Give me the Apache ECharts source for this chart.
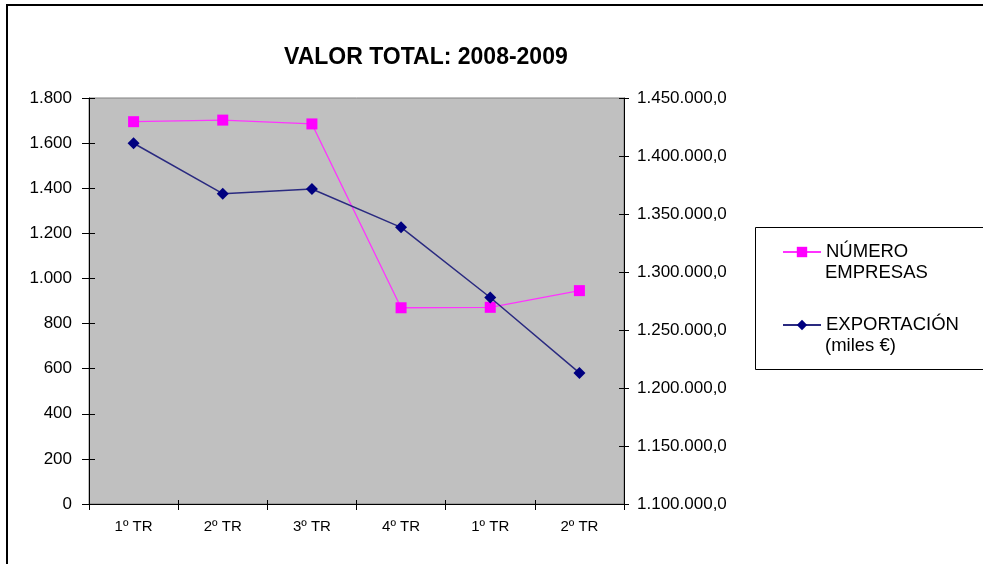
<!DOCTYPE html>
<html>
<head>
<meta charset="utf-8">
<script src="https://cdn.jsdelivr.net/npm/echarts@6/dist/echarts.min.js"></script>
<style>html,body{margin:0;padding:0;background:#fff}#c{width:983px;height:564px}</style>
</head>
<body>
<div id="c"></div>
<script>
const categories = ['1º TR', '2º TR', '3º TR', '4º TR', '1º TR', '2º TR'];
const numeroEmpresas = [1695, 1702, 1685, 870, 872, 946];
const exportacion = [1411000, 1367500, 1371500, 1338500, 1278000, 1213000];
const leftTicks = { min: 0, max: 1800, interval: 200 };
const rightTicks = { min: 1100000, max: 1450000, interval: 50000 };
const titleText = 'VALOR TOTAL: 2008-2009';
const seriesNames = ['NÚMERO\nEMPRESAS', 'EXPORTACIÓN\n(miles €)'];

const FONT = "'Liberation Sans', Arial, sans-serif";
function dots(v) {
  return String(Math.round(v)).replace(/\B(?=(\d{3})+(?!\d))/g, '.');
}
const chart = echarts.init(document.getElementById('c'), null, { renderer: 'canvas' });
const axisLineStyle = { show: true, lineStyle: { color: '#000', width: 1 } };
const legendTextStyle = { fontFamily: FONT, fontSize: 18.5, fill: '#000' };
chart.setOption({
  animation: false,
  backgroundColor: '#fff',
  textStyle: { fontFamily: FONT },
  title: {
    text: titleText,
    left: 279, top: 40,
    textStyle: { fontFamily: FONT, fontSize: 23, fontWeight: 'bold', color: '#000', lineHeight: 26 }
  },
  graphic: [
    { type: 'rect', z: 0, shape: { x: 7, y: 5, width: 1100, height: 700 }, style: { fill: 'none', stroke: '#000', lineWidth: 2 } },
    { type: 'rect', z: 0, shape: { x: 755.5, y: 227.5, width: 400, height: 142 }, style: { fill: '#fff', stroke: '#000', lineWidth: 1 } },
    { type: 'text', z: 20, x: 825, y: 273, style: Object.assign({ text: seriesNames[0].split('\n')[1], verticalAlign: 'middle' }, legendTextStyle) },
    { type: 'text', z: 20, x: 825, y: 346, style: Object.assign({ text: seriesNames[1].split('\n')[1], verticalAlign: 'middle' }, legendTextStyle) }
  ],
  legend: {
    orient: 'vertical',
    left: 782, top: 242,
    padding: 0,
    itemGap: 53,
    itemWidth: 38,
    itemHeight: 13,
    z: 10,
    formatter: name => name.split('\n')[0],
    textStyle: { fontFamily: FONT, fontSize: 18.5, color: '#000', lineHeight: 20 },
    data: seriesNames
  },
  grid: {
    left: 89, right: 359, top: 98, bottom: 60,
    show: true, backgroundColor: '#c0c0c0', borderColor: '#808080', borderWidth: 1
  },
  xAxis: [
    {
      type: 'category', data: categories, position: 'bottom', boundaryGap: true,
      axisLine: axisLineStyle,
      axisTick: { show: true, length: 6, lineStyle: { color: '#000' } },
      axisLabel: { color: '#000', fontSize: 15, margin: 15, fontFamily: FONT },
      splitLine: { show: false }
    },
    {
      type: 'category', data: categories, position: 'bottom', boundaryGap: true,
      axisLine: { show: false },
      axisTick: { show: true, inside: true, length: 4, lineStyle: { color: '#000' } },
      axisLabel: { show: false },
      splitLine: { show: false }
    }
  ],
  yAxis: [
    {
      type: 'value', position: 'left', min: leftTicks.min, max: leftTicks.max, interval: leftTicks.interval,
      axisLine: axisLineStyle,
      axisTick: { show: true, length: 7, lineStyle: { color: '#000' } },
      axisLabel: { color: '#000', fontSize: 17, margin: 17, fontFamily: FONT, formatter: v => dots(v) },
      splitLine: { show: false }
    },
    {
      type: 'value', position: 'right', min: rightTicks.min, max: rightTicks.max, interval: rightTicks.interval,
      axisLine: axisLineStyle,
      axisTick: { show: true, length: 5, lineStyle: { color: '#000' } },
      axisLabel: { color: '#000', fontSize: 17, margin: 13, fontFamily: FONT, formatter: v => dots(v) + ',0' },
      splitLine: { show: false }
    },
    {
      type: 'value', position: 'left', min: leftTicks.min, max: leftTicks.max, interval: leftTicks.interval,
      axisLine: { show: false },
      axisTick: { show: true, inside: true, length: 6, lineStyle: { color: '#000' } },
      axisLabel: { show: false }, splitLine: { show: false }
    },
    {
      type: 'value', position: 'right', min: rightTicks.min, max: rightTicks.max, interval: rightTicks.interval,
      axisLine: { show: false },
      axisTick: { show: true, inside: true, length: 5, lineStyle: { color: '#000' } },
      axisLabel: { show: false }, splitLine: { show: false }
    }
  ],
  series: [
    {
      name: seriesNames[0], type: 'line', yAxisIndex: 0, data: numeroEmpresas,
      symbol: 'rect', symbolSize: 11, z: 3,
      itemStyle: { color: '#ff00ff' },
      lineStyle: { color: '#ff33ff', width: 1.3 }
    },
    {
      name: seriesNames[1], type: 'line', yAxisIndex: 1, data: exportacion,
      symbol: 'diamond', symbolSize: 12, z: 4,
      itemStyle: { color: '#000080' },
      lineStyle: { color: '#2a2a80', width: 1.5 }
    }
  ]
});
</script>
</body>
</html>
